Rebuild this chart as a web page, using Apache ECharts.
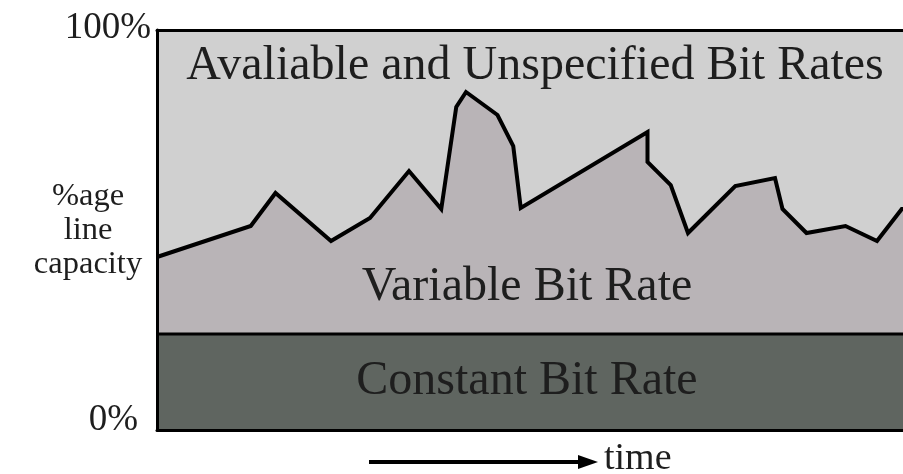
<!DOCTYPE html>
<html>
<head>
<meta charset="utf-8">
<style>html,body{margin:0;padding:0;background:#fff;}#c{width:903px;height:474px;}</style>
<script src="https://cdn.jsdelivr.net/npm/echarts@6/dist/echarts.min.js"></script>
</head>
<body>
<div id="c"></div>
<script>
// time positions (0-100 % of window) and total used capacity (VBR top, %)
var timePos = [0, 12.5, 15.8, 23.2, 28.4, 33.6, 37.9, 39.9, 41.2, 45.4, 47.5, 48.5, 65.4, 65.4, 68.5, 70.8, 77.1, 82.4, 83.4, 86.6, 91.8, 96.0, 99.3, 100];
var vbrTop  = [43.25, 51, 59.25, 47.25, 53, 64.75, 55.25, 80.75, 84.5, 78.75, 71, 55.5, 74.5, 67, 61.25, 49.25, 61, 63, 55.25, 49.25, 51, 47.25, 55.25, 55.25];
var cbrPos = [0, 100];
var cbrLevel = [24, 24];
var yTicks = [0, 100];
var tickLabels = ['0%', '100%'];
var areaLabels = ['Avaliable and Unspecified Bit Rates', 'Variable Bit Rate', 'Constant Bit Rate'];

var serif = '"Liberation Serif", "DejaVu Serif", serif';
var txt = '#1e1e1e';
var chart = echarts.init(document.getElementById('c'));
chart.setOption({
  animation: false,
  grid: {left: 157, top: 30, right: -4, bottom: 44, show: true, backgroundColor: '#d0d0d0', borderWidth: 0, containLabel: false, outerBoundsMode: 'none'},
  xAxis: [
    {type: 'value', min: 0, max: 100, position: 'bottom', z: 10,
     axisLine: {show: true, lineStyle: {color: '#000', width: 3}}, axisTick: {show: false}, axisLabel: {show: false}, splitLine: {show: false}},
    {type: 'value', min: 0, max: 100, position: 'top', z: 10,
     axisLine: {show: true, lineStyle: {color: '#000', width: 3}}, axisTick: {show: false}, axisLabel: {show: false}, splitLine: {show: false}}
  ],
  yAxis: {
    type: 'value', min: 0, max: 100, interval: 100, z: 10,
    axisLine: {show: true, lineStyle: {color: '#000', width: 3}},
    axisTick: {show: false}, splitLine: {show: false},
    axisLabel: {
      margin: 6, color: txt, fontFamily: serif, fontSize: 37,
      formatter: function (v) { var i = yTicks.indexOf(v); return v === 0 ? '{lo|' + tickLabels[i] + '}' : '{hi|' + tickLabels[i] + '}'; },
      rich: {
        lo: {fontFamily: serif, fontSize: 37, color: txt, padding: [0, 13, 20, 0]},
        hi: {fontFamily: serif, fontSize: 37, color: txt, padding: [0, 0, 4, 0]}
      }
    },
    name: '%age\nline\ncapacity', nameLocation: 'middle', nameRotate: 0, nameGap: 69, nameMoveOverlap: false,
    nameTextStyle: {fontFamily: serif, fontSize: 32.5, color: txt, align: 'center', verticalAlign: 'middle', lineHeight: 34}
  },
  series: [
    {type: 'line', name: 'VBR', data: timePos.map(function (t, i) { return [t, vbrTop[i]]; }),
     symbol: 'none', lineStyle: {color: '#000', width: 4, join: 'miter'}, areaStyle: {color: '#b9b4b7', opacity: 1, origin: 'start'}, z: 2},
    {type: 'line', name: 'CBR', data: cbrPos.map(function (t, i) { return [t, cbrLevel[i]]; }),
     symbol: 'none', lineStyle: {color: '#000', width: 3}, areaStyle: {color: '#5f6560', opacity: 1, origin: 'start'}, z: 3}
  ],
  graphic: [
    {type: 'text', style: {text: areaLabels[0], font: '48px ' + serif, fill: txt, x: 535, y: 66, align: 'center', verticalAlign: 'middle'}, z: 20},
    {type: 'text', style: {text: areaLabels[1], font: '48px ' + serif, fill: txt, x: 527, y: 287, align: 'center', verticalAlign: 'middle'}, z: 20},
    {type: 'text', style: {text: areaLabels[2], font: '48px ' + serif, fill: txt, x: 527, y: 381, align: 'center', verticalAlign: 'middle'}, z: 20},
    {type: 'line', shape: {x1: 369, y1: 462, x2: 582, y2: 462}, style: {stroke: '#000', lineWidth: 4}, z: 20},
    {type: 'polygon', shape: {points: [[578, 455], [598, 462], [578, 469]]}, style: {fill: '#000'}, z: 20},
    {type: 'text', style: {text: 'time', font: '38px ' + serif, fill: txt, x: 604, y: 459, align: 'left', verticalAlign: 'middle'}, z: 20}
  ]
});
</script>
</body>
</html>
